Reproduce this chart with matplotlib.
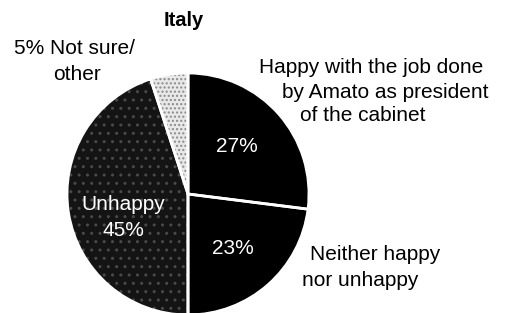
import numpy as np
import matplotlib
matplotlib.use('Agg')
from matplotlib import pyplot as plt

plt.rcParams['font.family'] = ['Liberation Sans', 'DejaVu Sans']

# Datos (porcentajes, en sentido horario desde arriba)
etiquetas = ['Happy', 'Neither', 'Unhappy', 'Not sure/other']
valores = [27, 23, 45, 5]
colores = ['#000000', '#000000', '#141414', '#e8e8e8']
tramas = [None, None, '..', '....']
color_trama = ['#000000', '#000000', '#4a4a4a', '#8a8a8a']

W, H = 509, 313
fig = plt.figure(figsize=(W / 100, H / 100), dpi=100)

# Pie centrado en (188, 194) px con radio ~121 px
cx, cy, r = 188, 194, 121
ax = fig.add_axes([(cx - r) / W, (H - cy - r) / H, 2 * r / W, 2 * r / H])

wedges, _ = ax.pie(valores, colors=colores, startangle=90, counterclock=False,
                   wedgeprops=dict(linewidth=0))
for w, h, c in zip(wedges, tramas, color_trama):
    if h:
        w.set_hatch(h)
        w.set_edgecolor(c)

# bordes blancos entre porciones
bordes, _ = ax.pie(valores, startangle=90, counterclock=False,
                   wedgeprops=dict(facecolor='none', edgecolor='white', linewidth=2))
ax.set_xlim(-1, 1)
ax.set_ylim(-1, 1)
ax.axis('off')


def txt(x, y, s, **kw):
    kw.setdefault('fontsize', 15)
    kw.setdefault('va', 'center')
    fig.text(x / W, 1 - y / H, s, **kw)


txt(184, 20, 'Italy', ha='center', fontweight='bold', fontsize=14.5)
txt(74, 48, '5% Not sure/', ha='center')
txt(77, 74, 'other', ha='center')
txt(259, 68, 'Happy with the job done', ha='left')
txt(282, 92, 'by Amato as president', ha='left')
txt(300, 116, 'of the cabinet', ha='left')
txt(237, 147, '27%', ha='center', color='white')
txt(233, 248, '23%', ha='center', color='white')
txt(123, 205, 'Unhappy', ha='center', color='white')
txt(123, 230, '45%', ha='center', color='white')
txt(310, 255, 'Neither happy', ha='left')
txt(302, 280, 'nor unhappy', ha='left')

fig.savefig('out.png', dpi=100, facecolor='white')
